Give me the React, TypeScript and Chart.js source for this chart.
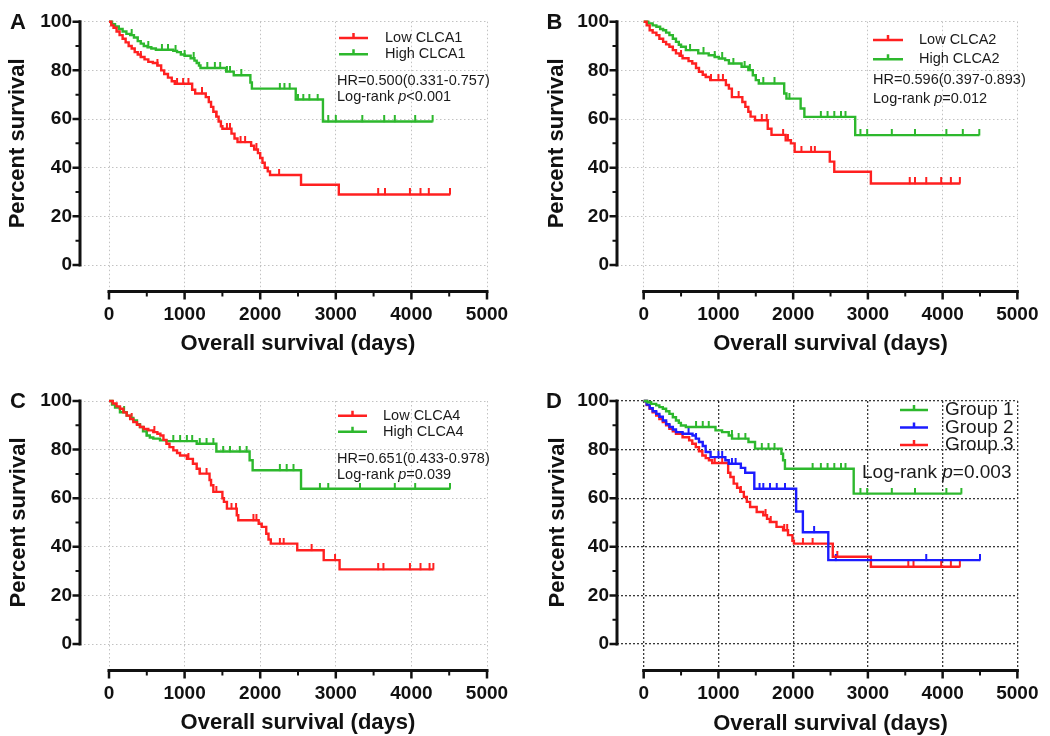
import React, { useEffect, useRef } from "react";
import { Chart, registerables } from "chart.js";

Chart.register(...registerables);

const FONT = "'Liberation Sans', Arial, Helvetica, sans-serif";

const xTicks = [0, 1000, 2000, 3000, 4000, 5000];
const xMinorTicks = [500, 1500, 2500, 3500, 4500];
const yTicks = [0, 20, 40, 60, 80, 100];
const yMinorTicks = [10, 30, 50, 70, 90];

const RED = "#ff2020";
const GREEN = "#2db82d";
const BLUE = "#1c1cff";

// ---------- Panel A ----------
const aLow = [[0,100],[30,98.5],[60,97.5],[100,96],[140,94.5],[180,93],[220,91.5],[260,90],[300,89],[340,87.5],[380,86.5],[420,85.5],[470,84.5],[520,83.5],[580,83],[640,82],[690,80],[730,78.5],[780,77],[830,75.5],[870,74.5],[1100,72],[1140,70.5],[1280,69],[1320,67],[1350,65],[1380,63],[1420,61],[1450,59],[1480,57],[1500,56],[1620,54],[1660,52],[1700,50.5],[1880,49],[1920,47.5],[1970,46],[2000,44],[2030,42],[2060,40],[2100,38.5],[2130,37],[2540,33],[3040,29],[4510,29]];
const aLowCensor = [420, 640, 900, 980, 1050, 1230, 1420, 1560, 1600, 1740, 1800, 1950, 2250, 3560, 3650, 3980, 4120, 4230, 4510];
const aHigh = [[0,100],[40,99],[80,98],[130,97],[180,96],[230,95],[280,94.5],[330,93.5],[380,92],[420,91],[460,90],[510,89.5],[560,89],[620,88.5],[850,88],[900,87.5],[950,86.5],[1000,86],[1080,85],[1130,84],[1160,83],[1190,82],[1210,81],[1550,79.5],[1650,78],[1870,75],[1890,72.5],[2470,68],[2830,59],[4280,59]];
const aHighCensor = [300, 520, 700, 780, 880, 1000, 1120, 1300, 1400, 1470, 1560, 1600, 1750, 2260, 2320, 2390, 2500, 2570, 2650, 2760, 2900, 3000, 3350, 3640, 3780, 4050, 4280];

// ---------- Panel B ----------
const bLow = [[0,100],[40,98.5],[80,96.5],[120,95.5],[170,94.5],[210,93],[260,91.7],[300,90.7],[344,89.7],[390,88.3],[432,87],[480,86],[520,85],[600,83.8],[650,82.8],[700,81],[740,79.4],[790,78.2],[830,77.3],[890,76],[1100,74],[1140,72.5],[1180,69],[1320,67],[1360,65],[1400,63],[1430,61],[1490,59.5],[1660,56],[1710,53.5],[1900,51.3],[1970,50],[2020,46.5],[2490,42.5],[2550,38.3],[3040,33.5],[4230,33.5]];
const bLowCensor = [500, 900, 1000, 1060, 1270, 1580, 1645, 1865, 1930, 2110, 2240, 2290, 3560, 3630, 3780, 3980, 4110, 4230];
const bHigh = [[0,100],[60,99.3],[120,98.5],[170,97.9],[220,97],[260,96.5],[300,95.5],[344,94.5],[390,93],[432,91.7],[470,90.5],[500,89.7],[564,88.3],[730,87],[870,86.2],[950,85.5],[1005,84.9],[1090,84.2],[1140,82.8],[1310,81.5],[1400,80.1],[1460,78],[1500,76],[1540,74.6],[1880,70.5],[1910,68.4],[2100,64.3],[2150,60.9],[2830,53.4],[4490,53.4]];
const bHighCensor = [620, 800, 950, 1050, 1200, 1350, 1420, 1600, 1750, 1950, 2370, 2460, 2550, 2640, 2700, 2900, 2990, 3320, 3630, 4050, 4270, 4490];

// ---------- Panel C ----------
const cLow = [[0,100],[50,99],[100,97.8],[145,96.8],[190,95.3],[234,94],[280,92.6],[322,91.3],[370,90.2],[410,89.3],[460,88.5],[520,87.9],[586,87.2],[640,86.5],[680,85.8],[720,84],[760,82.4],[800,81],[851,79.7],[900,78.6],[940,77.6],[1030,76.2],[1110,74.2],[1160,72.1],[1200,70.1],[1330,67.5],[1350,65.3],[1380,62.6],[1500,60],[1520,58.5],[1560,55.7],[1690,53],[1710,50.9],[1980,49.5],[2020,48.2],[2080,45.4],[2110,43],[2140,41.3],[2490,38.6],[2840,34.5],[3050,30.7],[4290,30.7]];
const cLowCensor = [300, 600, 1050, 1200, 1290, 1420, 1620, 1680, 1910, 1950, 2260, 2310, 2680, 2990, 3560, 3630, 3980, 4120, 4240, 4290];
const cHigh = [[0,100],[40,98.5],[80,97.3],[145,95.4],[234,94],[280,93],[322,92],[370,90.5],[410,89.3],[450,87.5],[498,85.8],[540,85],[586,84.5],[675,83.8],[760,83.5],[1160,82.4],[1420,79.2],[1860,75.6],[1900,71.5],[2540,63.9],[4510,63.9]];
const cHighCensor = [200, 500, 850, 940, 1030, 1100, 1200, 1290, 1380, 1510, 1600, 1730, 1820, 2260, 2350, 2440, 2790, 2900, 3320, 3780, 4050, 4510];

// ---------- Panel D ----------
const dG1 = [[0,100],[50,99.5],[100,98.8],[167,98.2],[210,97.5],[256,96.8],[300,95.8],[344,94.7],[390,93.3],[432,92],[470,91],[498,89.9],[564,89.3],[961,87.9],[1049,87.2],[1138,85.8],[1182,84.5],[1402,83.1],[1490,80.4],[1843,78.3],[1865,75.6],[1890,72.1],[2810,61.9],[4250,61.9]];
const dG1Censor = [700, 790, 870, 1180, 1270, 1360, 1580, 1670, 1750, 2260, 2370, 2460, 2550, 2640, 2700, 2900, 2990, 3320, 3630, 4050, 4250];
const dG2 = [[0,100],[40,98.5],[80,97],[120,95.8],[167,94.7],[210,93.5],[256,92],[300,90.5],[344,89.3],[390,88.3],[432,87.2],[520,86.5],[653,85.8],[697,84.5],[740,83.1],[790,81.5],[829,79],[895,76.9],[1093,75.6],[1138,74.2],[1300,72.5],[1358,70.5],[1480,63.9],[2040,54.5],[2130,46],[2470,34.5],[4500,34.5]];
const dG2Censor = [600, 700, 1000, 1050, 1180, 1230, 1550, 1600, 1690, 1780, 1890, 2280, 2570, 3780, 4500];
const dG3 = [[0,100],[40,98.3],[80,96.8],[120,95.4],[167,94],[210,92.6],[256,91.3],[300,90],[344,88.6],[390,87.5],[432,86.5],[520,85.1],[608,83.8],[650,82.4],[697,81],[740,79.3],[785,77.6],[830,76.5],[873,75.6],[917,74.5],[1130,70.5],[1160,68.7],[1204,66],[1250,64.3],[1292,62.6],[1340,60.5],[1380,58.5],[1424,56.4],[1512,54.3],[1600,53],[1650,51.5],[1688,50.2],[1777,48.2],[1865,46.8],[1931,44.8],[1990,42.5],[2010,41.3],[2530,35.9],[3040,31.8],[4230,31.8]];
const dG3Censor = [950, 1050, 1300, 1630, 1700, 1880, 1920, 2130, 2260, 2590, 3540, 3610, 3980, 4110, 4230];

type Part = { text: string; italic?: boolean };
type Note = { x: number; y: number; parts: Part[] };
type Series = { label: string; color: string; steps: number[][]; censor: number[] };
type Geo = {
  left: number; top: number; width: number; height: number;
  axisX: number; x0: number; x5: number; y100: number; y0: number; axisY: number;
  yTitleX: number; xTitleY: number; letterX: number; letterY: number;
  legX1: number; legX2: number; legTextX: number; legYs: number[]; legFont: number;
  noteFont: number; gridColor: string; gridWidth: number; gridDash: number[];
};

function survAt(steps: number[][], t: number) {
  let s = steps[0][1];
  for (const [ti, si] of steps) {
    if (ti <= t) s = si;
    else break;
  }
  return s;
}

function makeTick(color: string) {
  const c = document.createElement("canvas");
  c.width = 4;
  c.height = 12;
  const g = c.getContext("2d")!;
  g.fillStyle = color;
  g.fillRect(1, 0, 2, 6.5);
  return c;
}

function Panel({ letter, series, notes, geo }: { letter: string; series: Series[]; notes: Note[]; geo: Geo }) {
  const ref = useRef<HTMLCanvasElement>(null);
  useEffect(() => {
    const canvas = ref.current!;
    const xMin = -((geo.x0 - geo.axisX) / (geo.x5 - geo.x0)) * 5000;
    const yMin = -((geo.axisY - geo.y0) / (geo.y0 - geo.y100)) * 100;
    const datasets: any[] = [];
    series.forEach((s) => {
      datasets.push({
        label: s.label,
        data: s.steps.map(([t, v]) => ({ x: t, y: v })),
        borderColor: s.color,
        backgroundColor: s.color,
        borderWidth: 2.4,
        stepped: "before",
        pointRadius: 0,
        fill: false,
        clip: 4,
      });
    });
    series.forEach((s) => {
      datasets.push({
        label: s.label + " censored",
        data: s.censor.map((t) => ({ x: t, y: survAt(s.steps, t) })),
        showLine: false,
        pointStyle: makeTick(s.color),
        pointRadius: 3,
        borderColor: s.color,
        backgroundColor: s.color,
        clip: false,
      });
    });

    const deco = {
      id: "deco" + letter,
      afterDraw(chart: any) {
        const ctx = chart.ctx as CanvasRenderingContext2D;
        const xs = chart.scales.x;
        const ys = chart.scales.y;
        const ax = chart.chartArea.left;
        const ay = chart.chartArea.bottom;
        const px0 = xs.getPixelForValue(0);
        const px5 = xs.getPixelForValue(5000);
        const py0 = ys.getPixelForValue(0);
        const py100 = ys.getPixelForValue(100);
        ctx.save();
        ctx.strokeStyle = "#111";
        ctx.lineCap = "butt";
        ctx.lineWidth = 3;
        ctx.beginPath();
        ctx.moveTo(ax, py100 - 1.5);
        ctx.lineTo(ax, py0 + 1.5);
        ctx.moveTo(px0 - 1.5, ay);
        ctx.lineTo(px5 + 1.5, ay);
        ctx.stroke();
        ctx.lineWidth = 2.5;
        ctx.beginPath();
        yTicks.forEach((v) => {
          const p = ys.getPixelForValue(v);
          ctx.moveTo(ax - 7.5, p);
          ctx.lineTo(ax, p);
        });
        xTicks.forEach((v) => {
          const p = xs.getPixelForValue(v);
          ctx.moveTo(p, ay);
          ctx.lineTo(p, ay + 8);
        });
        ctx.stroke();
        ctx.lineWidth = 2;
        ctx.beginPath();
        yMinorTicks.forEach((v) => {
          const p = ys.getPixelForValue(v);
          ctx.moveTo(ax - 4.5, p);
          ctx.lineTo(ax, p);
        });
        xMinorTicks.forEach((v) => {
          const p = xs.getPixelForValue(v);
          ctx.moveTo(p, ay);
          ctx.lineTo(p, ay + 5);
        });
        ctx.stroke();

        ctx.fillStyle = "#111";
        ctx.textBaseline = "middle";
        ctx.textAlign = "center";
        ctx.font = `bold 22px ${FONT}`;
        ctx.fillText("Overall survival (days)", (px0 + px5) / 2, geo.xTitleY);
        ctx.save();
        ctx.translate(geo.yTitleX, (py0 + py100) / 2);
        ctx.rotate(-Math.PI / 2);
        ctx.fillText("Percent survival", 0, 0);
        ctx.restore();
        ctx.font = `bold 22px ${FONT}`;
        ctx.fillText(letter, geo.letterX, geo.letterY);

        series.forEach((s, i) => {
          const y = geo.legYs[i];
          ctx.strokeStyle = s.color;
          ctx.lineWidth = 2.5;
          ctx.beginPath();
          ctx.moveTo(geo.legX1, y);
          ctx.lineTo(geo.legX2, y);
          const mid = (geo.legX1 + geo.legX2) / 2;
          ctx.moveTo(mid, y);
          ctx.lineTo(mid, y - 5);
          ctx.stroke();
          ctx.fillStyle = "#1a1a1a";
          ctx.textAlign = "left";
          ctx.font = `${geo.legFont}px ${FONT}`;
          ctx.fillText(s.label, geo.legTextX, y);
        });

        notes.forEach((n) => {
          let x = n.x;
          ctx.textAlign = "left";
          ctx.fillStyle = "#1a1a1a";
          n.parts.forEach((p) => {
            ctx.font = `${p.italic ? "italic " : ""}${geo.noteFont}px ${FONT}`;
            ctx.fillText(p.text, x, n.y);
            x += ctx.measureText(p.text).width;
          });
        });
        ctx.restore();
      },
    };

    const tickFont = { family: FONT, size: 19, weight: "bold" as const };
    const chart = new Chart(canvas, {
      type: "line",
      data: { datasets },
      plugins: [deco],
      options: {
        animation: false,
        responsive: false,
        maintainAspectRatio: false,
        events: [],
        layout: { padding: { left: 0, top: geo.y100, right: geo.width - geo.x5, bottom: 0 } },
        plugins: { legend: { display: false }, tooltip: { enabled: false }, title: { display: false } },
        scales: {
          x: {
            type: "linear",
            min: xMin,
            max: 5000,
            afterFit: (s: any) => { s.height = geo.height - geo.axisY; },
            afterBuildTicks: (s: any) => { s.ticks = xTicks.map((v) => ({ value: v })); },
            grid: { color: geo.gridColor, lineWidth: geo.gridWidth, drawTicks: false },
            border: { display: false, dash: geo.gridDash },
            ticks: { font: tickFont, color: "#111", padding: 11.5, maxRotation: 0, autoSkip: false, callback: (v: any) => String(v) },
          },
          y: {
            type: "linear",
            min: yMin,
            max: 100,
            afterFit: (s: any) => { s.width = geo.axisX; },
            afterBuildTicks: (s: any) => { s.ticks = yTicks.map((v) => ({ value: v })); },
            grid: { color: geo.gridColor, lineWidth: geo.gridWidth, drawTicks: false },
            border: { display: false, dash: geo.gridDash },
            ticks: { font: tickFont, color: "#111", padding: 8, autoSkip: false, callback: (v: any) => String(v) },
          },
        },
      } as any,
    });
    return () => chart.destroy();
  }, []);
  return (
    <canvas
      ref={ref}
      width={geo.width}
      height={geo.height}
      style={{ position: "absolute", left: geo.left, top: geo.top, width: geo.width, height: geo.height }}
    />
  );
}

const topLeft = { axisX: 80, x0: 109, x5: 487, y100: 21.7, y0: 265, axisY: 291.5 };
const topRight = { axisX: 87, x0: 114, x5: 492, y100: 21.7, y0: 265, axisY: 291.5 };
const botLeft = { axisX: 80, x0: 109, x5: 487, y100: 33, y0: 276, axisY: 302.5 };
const botRight = { axisX: 87, x0: 114, x5: 492, y100: 33, y0: 276, axisY: 302.5 };

const geoA: Geo = {
  left: 0, top: 0, width: 525, height: 368, ...topLeft,
  yTitleX: 18, xTitleY: 343.5, letterX: 18, letterY: 22.5,
  legX1: 339, legX2: 368, legTextX: 385, legYs: [38, 54.3], legFont: 14.5, noteFont: 14.5,
  gridColor: "#c2c2c2", gridWidth: 1, gridDash: [1.5, 2.5],
};
const geoB: Geo = {
  left: 530, top: 0, width: 520, height: 368, ...topRight,
  yTitleX: 26.5, xTitleY: 343.5, letterX: 24.5, letterY: 22.5,
  legX1: 343, legX2: 373, legTextX: 389, legYs: [40, 59.3], legFont: 14.5, noteFont: 14.5,
  gridColor: "#c2c2c2", gridWidth: 1, gridDash: [1.5, 2.5],
};
const geoC: Geo = {
  left: 0, top: 368, width: 525, height: 368, ...botLeft,
  yTitleX: 19, xTitleY: 354.5, letterX: 18, letterY: 34,
  legX1: 338, legX2: 367, legTextX: 383, legYs: [47.7, 63.7], legFont: 14.5, noteFont: 14.5,
  gridColor: "#c2c2c2", gridWidth: 1, gridDash: [1.5, 2.5],
};
const geoD: Geo = {
  left: 530, top: 368, width: 520, height: 368, ...botRight,
  yTitleX: 27.5, xTitleY: 355.5, letterX: 24, letterY: 34,
  legX1: 370, legX2: 398, legTextX: 415, legYs: [42, 59.5, 77], legFont: 19, noteFont: 19,
  gridColor: "#3a3a3a", gridWidth: 1.3, gridDash: [2, 2],
};

export default function App() {
  return (
    <div style={{ position: "absolute", left: 0, top: 0, width: 1050, height: 736, background: "#fff", overflow: "hidden" }}>
      <Panel
        letter="A"
        geo={geoA}
        series={[
          { label: "Low CLCA1", color: RED, steps: aLow, censor: aLowCensor },
          { label: "High CLCA1", color: GREEN, steps: aHigh, censor: aHighCensor },
        ]}
        notes={[
          { x: 337, y: 80.5, parts: [{ text: "HR=0.500(0.331-0.757)" }] },
          { x: 337, y: 97, parts: [{ text: "Log-rank " }, { text: "p", italic: true }, { text: "<0.001" }] },
        ]}
      />
      <Panel
        letter="B"
        geo={geoB}
        series={[
          { label: "Low CLCA2", color: RED, steps: bLow, censor: bLowCensor },
          { label: "High CLCA2", color: GREEN, steps: bHigh, censor: bHighCensor },
        ]}
        notes={[
          { x: 343, y: 80, parts: [{ text: "HR=0.596(0.397-0.893)" }] },
          { x: 343, y: 99.3, parts: [{ text: "Log-rank " }, { text: "p", italic: true }, { text: "=0.012" }] },
        ]}
      />
      <Panel
        letter="C"
        geo={geoC}
        series={[
          { label: "Low CLCA4", color: RED, steps: cLow, censor: cLowCensor },
          { label: "High CLCA4", color: GREEN, steps: cHigh, censor: cHighCensor },
        ]}
        notes={[
          { x: 337, y: 91.3, parts: [{ text: "HR=0.651(0.433-0.978)" }] },
          { x: 337, y: 107, parts: [{ text: "Log-rank " }, { text: "p", italic: true }, { text: "=0.039" }] },
        ]}
      />
      <Panel
        letter="D"
        geo={geoD}
        series={[
          { label: "Group 1", color: GREEN, steps: dG1, censor: dG1Censor },
          { label: "Group 2", color: BLUE, steps: dG2, censor: dG2Censor },
          { label: "Group 3", color: RED, steps: dG3, censor: dG3Censor },
        ]}
        notes={[
          { x: 332, y: 104.7, parts: [{ text: "Log-rank " }, { text: "p", italic: true }, { text: "=0.003" }] },
        ]}
      />
    </div>
  );
}
